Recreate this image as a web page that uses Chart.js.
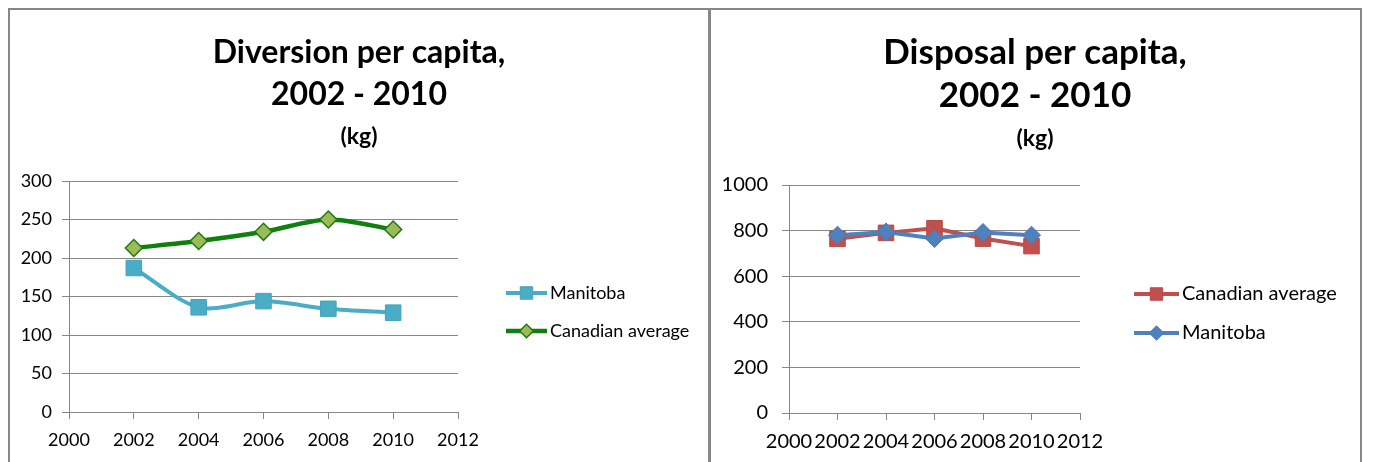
<!DOCTYPE html>
<html>
<head>
<meta charset="utf-8">
<title>Diversion and disposal per capita, 2002 - 2010</title>
<script src="https://cdn.jsdelivr.net/npm/chart.js@4.4.1/dist/chart.umd.min.js"></script>
<style>
  html, body { margin: 0; padding: 0; background: #fff; }
  body { width: 1374px; height: 462px; position: relative; overflow: hidden; }
  .frame { position: absolute; box-sizing: border-box; border: 2px solid #878787; border-bottom: none; }
  canvas { position: absolute; }
</style>
</head>
<body>
<div class="frame" style="left:8px; top:8px; width:702px; height:460px;"></div>
<div class="frame" style="left:709px; top:8px; width:653px; height:460px;"></div>
<canvas id="diversion" width="698" height="452" style="left:10px; top:10px;"></canvas>
<canvas id="disposal" width="646" height="452" style="left:712px; top:10px;"></canvas>

<script>
// Reporting years (x values) and axis ticks
const years = [2002, 2004, 2006, 2008, 2010];
const xTicks = [2000, 2002, 2004, 2006, 2008, 2010, 2012];

// Diversion per capita (kg)
const diversionManitoba = [187, 136, 144, 134, 129];
const diversionCanada   = [213, 222, 234, 250, 237];
const diversionTicks    = [0, 50, 100, 150, 200, 250, 300];

// Disposal per capita (kg)
const disposalCanada   = [764, 790, 810, 765, 732];
const disposalManitoba = [780, 794, 765, 792, 780];
const disposalTicks    = [0, 200, 400, 600, 800, 1000];

const FONT = 'Lato, "Open Sans", sans-serif';
const GRID = '#878787';

const toPoints = (vals) => years.map((yr, i) => ({ x: yr, y: vals[i] }));

// Legend drawn as line + marker sample, placed to the right of the plot area
const lineLegend = {
  id: 'lineLegend',
  afterDraw(chart, args, opts) {
    const { ctx, chartArea } = chart;
    const x0 = chartArea.right + opts.offsetX;
    const cy = (chartArea.top + chartArea.bottom) / 2;
    chart.data.datasets.forEach((ds, i) => {
      const y = cy + opts.firstRow + i * opts.rowGap;
      const mx = x0 + opts.lineLength / 2;
      ctx.save();
      ctx.strokeStyle = ds.borderColor;
      ctx.lineWidth = ds.borderWidth;
      ctx.beginPath();
      ctx.moveTo(x0, y);
      ctx.lineTo(x0 + opts.lineLength, y);
      ctx.stroke();

      const r = ds.pointRadius * opts.markerScale;
      ctx.fillStyle = ds.pointBackgroundColor;
      ctx.strokeStyle = ds.pointBorderColor;
      ctx.lineWidth = ds.pointBorderWidth;
      ctx.beginPath();
      if (ds.pointStyle === 'rectRot') {
        ctx.moveTo(mx, y - r);
        ctx.lineTo(mx + r, y);
        ctx.lineTo(mx, y + r);
        ctx.lineTo(mx - r, y);
        ctx.closePath();
      } else {
        const h = r * Math.SQRT1_2;
        ctx.rect(mx - h, y - h, 2 * h, 2 * h);
      }
      ctx.fill();
      if (ds.pointBorderWidth > 0) ctx.stroke();

      ctx.fillStyle = '#000';
      ctx.font = opts.fontSize + 'px ' + FONT;
      ctx.textBaseline = 'middle';
      ctx.textAlign = 'left';
      ctx.fillText(ds.label, x0 + opts.lineLength + opts.textGap, y);
      ctx.restore();
    });
  }
};

function buildChart(canvasId, cfg) {
  const ctx = document.getElementById(canvasId).getContext('2d');
  return new Chart(ctx, {
    type: 'line',
    data: { datasets: cfg.datasets },
    options: {
      responsive: false,
      animation: false,
      events: [],
      layout: { padding: 0 },
      elements: { line: { tension: cfg.tension } },
      plugins: {
        legend: { display: false },
        tooltip: { enabled: false },
        title: {
          display: true,
          text: cfg.title,
          color: '#000',
          font: { family: FONT, weight: 'bold', size: cfg.titleSize, lineHeight: cfg.titleLine / cfg.titleSize },
          padding: { top: cfg.titleTop, bottom: 0 }
        },
        subtitle: {
          display: true,
          text: '(kg)',
          color: '#000',
          font: { family: FONT, weight: 'bold', size: 23, lineHeight: 1.2 },
          padding: { top: cfg.subtitleTop, bottom: cfg.subtitleBottom }
        },
        lineLegend: cfg.legend
      },
      scales: {
        x: {
          type: 'linear',
          min: xTicks[0],
          max: xTicks[xTicks.length - 1],
          afterBuildTicks: (s) => { s.ticks = xTicks.map(v => ({ value: v })); },
          ticks: {
            callback: (v) => String(v),
            color: '#000',
            font: { family: FONT, size: cfg.tickSize },
            padding: 10,
            maxRotation: 0,
            autoSkip: false
          },
          grid: { drawOnChartArea: false, drawTicks: true, tickLength: 7, color: GRID },
          border: { display: true, color: GRID, width: 1 },
          afterFit: (s) => { s.height = cfg.xAxisHeight; }
        },
        y: {
          type: 'linear',
          min: cfg.yTicks[0],
          max: cfg.yTicks[cfg.yTicks.length - 1],
          afterBuildTicks: (s) => { s.ticks = cfg.yTicks.map(v => ({ value: v })); },
          ticks: {
            callback: (v) => String(v),
            color: '#000',
            font: { family: FONT, size: cfg.tickSize },
            padding: cfg.yTickPadding
          },
          grid: { drawTicks: true, tickLength: 7, color: GRID },
          border: { display: true, color: GRID, width: 1 },
          afterFit: (s) => { s.width = cfg.yAxisWidth; }
        },
        // Empty right-hand axis reserving room for the legend
        legendSpace: {
          type: 'linear',
          position: 'right',
          display: true,
          grid: { display: false },
          border: { display: false },
          ticks: { display: false },
          afterFit: (s) => { s.width = cfg.legendWidth; }
        }
      }
    },
    plugins: [lineLegend]
  });
}

function draw() {
  buildChart('diversion', {
    title: ['Diversion per capita,', '2002 - 2010'],
    titleSize: 32,
    titleLine: 42,
    titleTop: 21.5,
    subtitleTop: 7.7,
    subtitleBottom: 30.2,
    tension: 0.3,
    tickSize: 18,
    yTicks: diversionTicks,
    yAxisWidth: 59,
    yTickPadding: 10,
    xAxisHeight: 50,
    legendWidth: 250,
    legend: { offsetX: 48, lineLength: 41, textGap: 3, firstRow: -3.5, rowGap: 38, markerScale: 0.8, fontSize: 18 },
    datasets: [
      {
        label: 'Manitoba',
        data: toPoints(diversionManitoba),
        borderColor: '#4BACC6',
        borderWidth: 4,
        pointStyle: 'rect',
        pointRadius: 11,
        pointBackgroundColor: '#4BACC6',
        pointBorderColor: '#45A3BC',
        pointBorderWidth: 1
      },
      {
        label: 'Canadian average',
        data: toPoints(diversionCanada),
        borderColor: '#0E800E',
        borderWidth: 4.5,
        pointStyle: 'rectRot',
        pointRadius: 8.5,
        pointBackgroundColor: '#9BBB59',
        pointBorderColor: '#1F7A12',
        pointBorderWidth: 1.5
      }
    ]
  });

  buildChart('disposal', {
    title: ['Disposal per capita,', '2002 - 2010'],
    titleSize: 35,
    titleLine: 43,
    titleTop: 21.5,
    subtitleTop: 7.7,
    subtitleBottom: 32.2,
    tension: 0,
    tickSize: 20,
    yTicks: disposalTicks,
    yAxisWidth: 77,
    yTickPadding: 14,
    xAxisHeight: 49,
    legendWidth: 278,
    legend: { offsetX: 54, lineLength: 45, textGap: 3, firstRow: -5, rowGap: 39, markerScale: 0.8, fontSize: 20 },
    datasets: [
      {
        label: 'Canadian average',
        data: toPoints(disposalCanada),
        order: 1,
        borderColor: '#C0504D',
        borderWidth: 4,
        pointStyle: 'rect',
        pointRadius: 11,
        pointBackgroundColor: '#C0504D',
        pointBorderColor: '#B84A47',
        pointBorderWidth: 1
      },
      {
        label: 'Manitoba',
        data: toPoints(disposalManitoba),
        order: 0,
        borderColor: '#4F81BD',
        borderWidth: 4,
        pointStyle: 'rectRot',
        pointRadius: 9,
        pointBackgroundColor: '#4F81BD',
        pointBorderColor: '#4A7AB3',
        pointBorderWidth: 1
      }
    ]
  });
}

if (document.fonts && document.fonts.load) {
  Promise.all([
    document.fonts.load('bold 32px Lato'),
    document.fonts.load('18px Lato')
  ]).then(draw, draw);
} else {
  draw();
}
</script>
</body>
</html>
